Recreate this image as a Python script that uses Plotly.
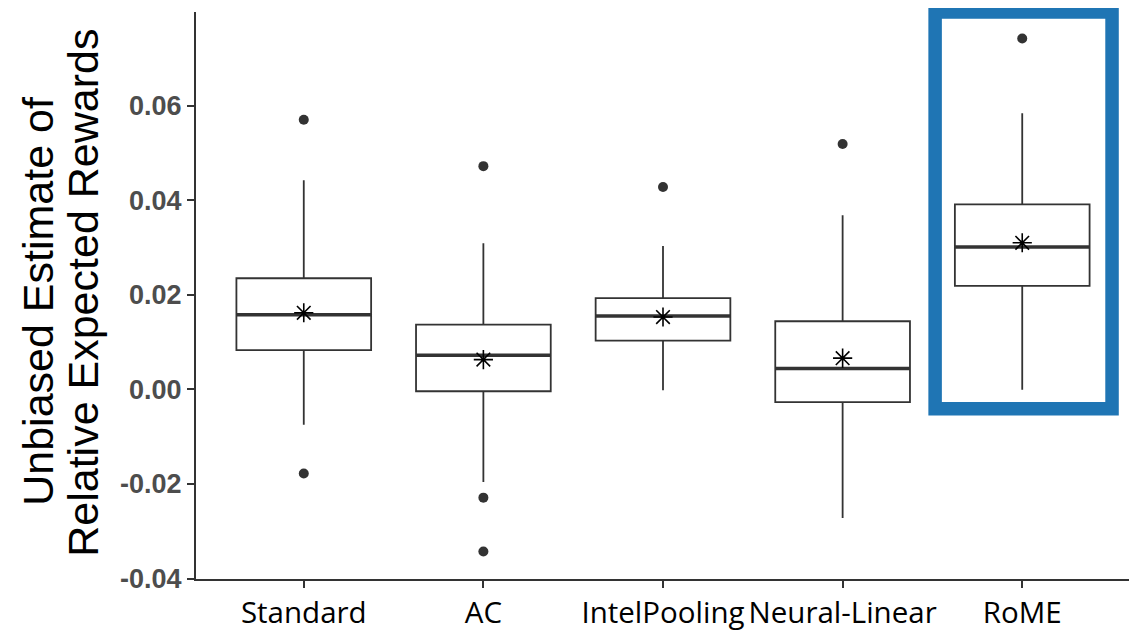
import plotly.graph_objects as go

categories = ["Standard", "AC", "IntelPooling", "Neural-Linear", "RoME"]
q1 = [0.0083, -0.0004, 0.0103, -0.0027, 0.0219]
median = [0.0158, 0.0072, 0.0155, 0.0044, 0.0301]
q3 = [0.0235, 0.0137, 0.0193, 0.0144, 0.0391]
lower_whisker = [-0.0075, -0.0196, -0.0002, -0.0272, -0.0001]
upper_whisker = [0.0442, 0.0309, 0.0303, 0.0368, 0.0584]
means = [0.0162, 0.0063, 0.0153, 0.0066, 0.0310]
outlier_cat = ["Standard", "Standard", "AC", "AC", "AC", "IntelPooling", "Neural-Linear", "RoME"]
outlier_val = [0.0570, -0.0178, 0.0472, -0.0229, -0.0343, 0.0428, 0.0519, 0.0742]
y_ticks = [-0.04, -0.02, 0.00, 0.02, 0.04, 0.06]
y_tick_labels = ["-0.04", "-0.02", "0.00", "0.02", "0.04", "0.06"]
highlight = "RoME"

# page has an 8px body margin; figure is sized/positioned to compensate
OFF = 8
W, H = 1137 - OFF, 638 - OFF
ML, MR, MT = 195.5 - OFF, 7.2, 12 - OFF
PH = 567.5
MB = H - MT - PH
BOX_W = 0.75
LINE_C = "#333333"
XR = [-0.6, 4.6]
YR = [-0.0401, 0.0798]

pos = list(range(len(categories)))
out_pos = [categories.index(c) for c in outlier_cat]

fig = go.Figure()
fig.add_trace(go.Box(
    x=pos, q1=q1, median=median, q3=q3,
    lowerfence=lower_whisker, upperfence=upper_whisker,
    boxpoints=False, whiskerwidth=0, width=BOX_W,
    fillcolor="white", line=dict(color=LINE_C, width=1.8),
    showlegend=False, hoverinfo="skip",
))

# thicker median lines (ggplot style)
mx, my = [], []
for i, m in zip(pos, median):
    mx += [i - BOX_W / 2, i + BOX_W / 2, None]
    my += [m, m, None]
fig.add_trace(go.Scatter(x=mx, y=my, mode="lines",
                         line=dict(color=LINE_C, width=3.5),
                         showlegend=False, hoverinfo="skip"))

fig.add_trace(go.Scatter(x=out_pos, y=outlier_val, mode="markers",
                         marker=dict(color=LINE_C, size=10, symbol="circle"),
                         showlegend=False, hoverinfo="skip"))
fig.add_trace(go.Scatter(x=pos, y=means, mode="markers",
                         marker=dict(symbol="asterisk-open", size=16, color="black",
                                     line=dict(color="black", width=1.6)),
                         showlegend=False, hoverinfo="skip"))

# highlight frame around the RoME box (paper coords so it is not clipped)
hi = categories.index(highlight)
def xp(v):
    return (v - XR[0]) / (XR[1] - XR[0])
def yp(v):
    return (v - YR[0]) / (YR[1] - YR[0])
fig.add_shape(type="rect", xref="paper", yref="paper",
              x0=xp(hi - 0.485), x1=xp(hi + 0.5), y0=yp(-0.0041), y1=yp(0.0798),
              line=dict(color="#1f75b4", width=13.5), fillcolor="rgba(0,0,0,0)",
              layer="above")

pw = W - ML - MR
ph = H - MT - MB
fig.add_annotation(text="Unbiased Estimate of", xref="paper", yref="paper",
                   x=(38 - OFF - ML) / pw, y=(H - MB - (301.5 - OFF)) / ph, textangle=-90,
                   showarrow=False, xanchor="center", yanchor="middle",
                   font=dict(family="Liberation Sans", size=43, color="black"))
fig.add_annotation(text="Relative Expected Rewards", xref="paper", yref="paper",
                   x=(83 - OFF - ML) / pw, y=(H - MB - (293.5 - OFF)) / ph, textangle=-90,
                   showarrow=False, xanchor="center", yanchor="middle",
                   font=dict(family="Liberation Sans", size=43, color="black"))

fig.update_layout(
    width=W, height=H,
    margin=dict(l=ML, r=MR, t=MT, b=MB, pad=0, autoexpand=False),
    plot_bgcolor="white", paper_bgcolor="white",
    xaxis=dict(range=XR, showgrid=False, zeroline=False,
               tickvals=pos, ticktext=categories, tickangle=0, automargin=False,
               showline=True, linecolor=LINE_C, linewidth=2,
               ticks="outside", ticklen=7, tickwidth=1.5, tickcolor=LINE_C,
               tickfont=dict(family="Open Sans", size=29.5, color="black")),
    yaxis=dict(range=YR, showgrid=False, zeroline=False, automargin=False,
               showline=True, linecolor=LINE_C, linewidth=2,
               ticks="outside", ticklen=7, tickwidth=1.5, tickcolor=LINE_C,
               tickvals=y_ticks, ticktext=y_tick_labels,
               tickfont=dict(family="Liberation Sans", size=27, color="#4d4d4d", weight="bold")),
)

fig.write_html("out.html")
